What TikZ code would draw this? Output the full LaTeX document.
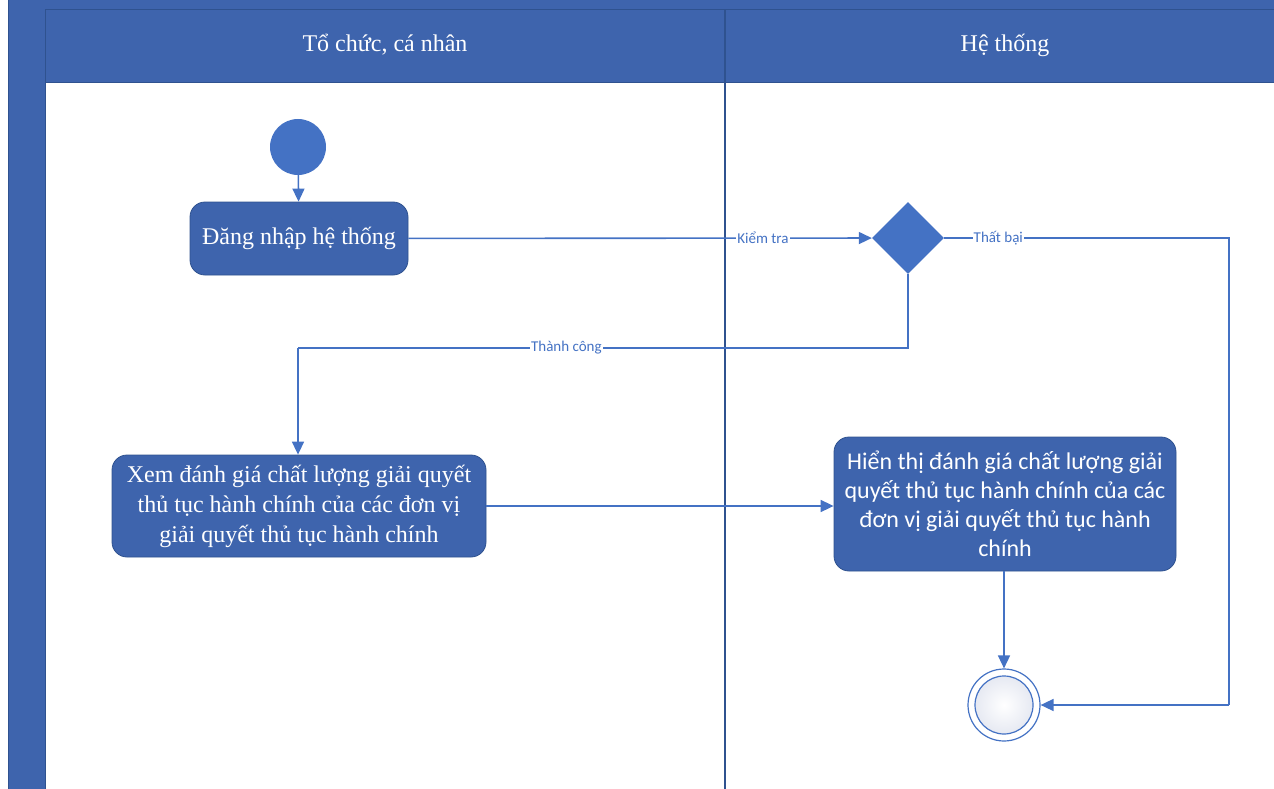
\documentclass[tikz,border=0pt]{standalone}
\usepackage{fontspec}
\setmainfont{Liberation Serif}
\newfontfamily\calfont{Carlito}
\usetikzlibrary{shapes.geometric,arrows.meta}
\definecolor{lane}{HTML}{3E64AD}
\definecolor{laneline}{HTML}{2F528F}
\definecolor{accent}{HTML}{4472C4}
\definecolor{endfill}{HTML}{E6E9F2}
\tikzset{
  actbox/.style={draw=laneline, line width=0.8pt, fill=lane, rounded corners=15pt, text=white, align=center, inner sep=0pt, font=\fontsize{24}{30}\selectfont},
  flow/.style={draw=accent, line width=1.6pt, -{Triangle[length=13pt,width=12pt]}},
  plain/.style={draw=accent, line width=1.6pt},
  lbl/.style={fill=white, text=accent, inner sep=1pt, font=\calfont\fontsize{15}{17}\selectfont},
  headtxt/.style={text=white, font=\fontsize{24}{28}\selectfont}
}
\begin{document}
\begin{tikzpicture}[x=1pt,y=-1pt]
\useasboundingbox (0,0) rectangle (1274,789);
% swimlane frame
\fill[lane] (8,0) rectangle (1274,10);
\fill[lane] (8,0) rectangle (45,789);
\fill[lane] (45,10) rectangle (1274,83);
\draw[laneline, line width=1pt] (8,0) -- (8,789);
\draw[laneline, line width=1pt] (45,10) -- (45,789);
\draw[laneline, line width=1pt] (45,10) -- (1274,10);
\draw[laneline, line width=1pt] (45,83) -- (1274,83);
\draw[laneline, line width=1.5pt] (725,10) -- (725,789);
\node[headtxt] (h1) at (385,45) {Tổ chức, cá nhân};
\node[headtxt] (h2) at (1005,45) {Hệ thống};

% nodes
\node[circle, fill=accent, minimum size=56pt, inner sep=0pt] (start) at (298,147) {};
\node[actbox, minimum width=218pt, minimum height=73pt] (login) at (299,238.5) {Đăng nhập hệ thống};
\node[diamond, fill=accent, minimum width=72pt, minimum height=72pt, inner sep=0pt, aspect=1] (dec) at (908,238) {};
\node[actbox, minimum width=374pt, minimum height=102pt] (view) at (299,506) {Xem đánh giá chất lượng giải quyết\\thủ tục hành chính của các đơn vị\\giải quyết thủ tục hành chính};
\node[actbox, minimum width=342pt, minimum height=134pt, font=\calfont\fontsize{24}{29}\selectfont] (show) at (1005,504) {Hiển thị đánh giá chất lượng giải\\quyết thủ tục hành chính của các\\đơn vị giải quyết thủ tục hành\\chính};
\node[circle, draw=accent, line width=1.2pt, fill=white, minimum size=72pt, inner sep=0pt] (end) at (1004,705) {};
\node[circle, draw=accent, line width=1.2pt, inner color=white, outer color=endfill, minimum size=58pt, inner sep=0pt] (endin) at (end.center) {};

\coordinate (failc) at (1229,238);
\coordinate (failb) at (1229,705);
\coordinate (succa) at (908,348);
\coordinate (succb) at (298,348);

% connectors
\draw[flow] (start) -- (login);
\draw[flow] (login) -- node[lbl, pos=0.765] {Kiểm tra} (dec);
\draw[plain] (dec.east) -- node[lbl, pos=0.19] {Thất bại} (failc) -- (failb);
\draw[flow] (failb) -- (end);
\draw[plain] (dec.south) -- (succa) -- node[lbl, pos=0.56] {Thành công} (succb);
\draw[flow] (succb) -- (view.north -| succb);
\draw[flow] (view.east) -- (show.west |- view.east);
\draw[flow] (show.south -| end) -- (end);
\end{tikzpicture}
\end{document}
